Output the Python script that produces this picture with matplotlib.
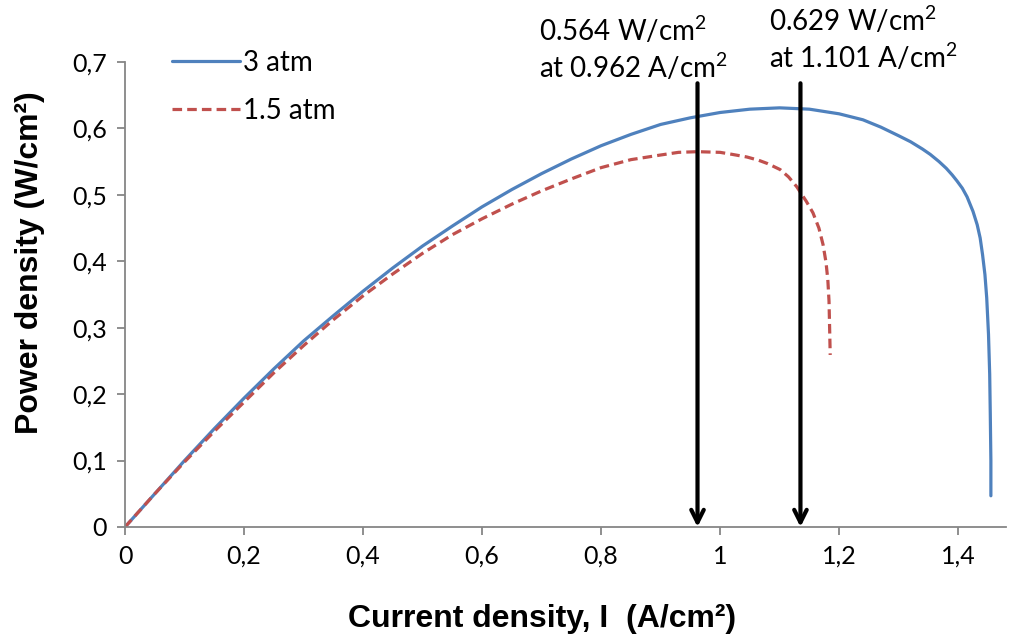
import matplotlib
matplotlib.use("Agg")
import matplotlib.pyplot as plt
from matplotlib.ticker import FuncFormatter

# current density (A/cm2) and power density (W/cm2)
i_3atm = [0, 0.05, 0.1, 0.15, 0.2, 0.25, 0.3, 0.35, 0.4, 0.45, 0.5, 0.55,
          0.6, 0.65, 0.7, 0.75, 0.8, 0.85, 0.9, 0.95, 1.0, 1.05, 1.1, 1.15,
          1.2, 1.24, 1.27, 1.3, 1.32, 1.34, 1.353, 1.368, 1.38, 1.39, 1.398,
          1.407, 1.415, 1.425, 1.432, 1.437, 1.441, 1.445, 1.448, 1.451,
          1.453, 1.454, 1.455, 1.455]
p_3atm = [0, 0.05, 0.10, 0.148, 0.194, 0.238, 0.28, 0.318, 0.355, 0.39,
          0.423, 0.453, 0.482, 0.508, 0.532, 0.554, 0.574, 0.591, 0.606,
          0.616, 0.624, 0.629, 0.631, 0.629, 0.622, 0.613, 0.602, 0.589,
          0.580, 0.569, 0.561, 0.550, 0.540, 0.530, 0.521, 0.510, 0.497,
          0.475, 0.455, 0.435, 0.41, 0.38, 0.345, 0.29, 0.23, 0.17, 0.10,
          0.047]

i_15atm = [0, 0.05, 0.1, 0.15, 0.2, 0.25, 0.3, 0.35, 0.4, 0.45, 0.5, 0.55,
           0.6, 0.65, 0.7, 0.75, 0.8, 0.85, 0.9, 0.93, 0.962, 1.0, 1.02,
           1.045, 1.065, 1.08, 1.101, 1.115, 1.129, 1.145, 1.156, 1.166,
           1.173, 1.178, 1.181, 1.183, 1.184, 1.185]
p_15atm = [0, 0.05, 0.098, 0.144, 0.188, 0.232, 0.273, 0.312, 0.348, 0.381,
           0.412, 0.44, 0.464, 0.486, 0.506, 0.524, 0.541, 0.553, 0.560,
           0.564, 0.565, 0.564, 0.561, 0.557, 0.552, 0.547, 0.538, 0.527,
           0.512, 0.49, 0.473, 0.45, 0.425, 0.398, 0.372, 0.34, 0.30, 0.259]

arrow_x = [0.962, 1.135]
notes = ["0.564 W/cm$^2$\nat 0.962 A/cm$^2$",
         "0.629 W/cm$^2$\nat 1.101 A/cm$^2$"]
note_pos = [(0.695, 0.771), (1.082, 0.786)]

x_ticks = [0, 0.2, 0.4, 0.6, 0.8, 1.0, 1.2, 1.4]
y_ticks = [0, 0.1, 0.2, 0.3, 0.4, 0.5, 0.6, 0.7]

BLUE = "#4F81BD"
RED = "#C0504D"
GREY = "#868686"

plt.rcParams["font.family"] = ["Lato", "DejaVu Sans"]
plt.rcParams["mathtext.fontset"] = "custom"
plt.rcParams["mathtext.rm"] = "Lato"
plt.rcParams["mathtext.it"] = "Lato:italic"
plt.rcParams["mathtext.bf"] = "Lato:bold"

fig = plt.figure(figsize=(10.1, 6.36), dpi=100)
ax = fig.add_axes([0.1238, 0.1714, 0.872, 0.7311])

ax.plot(i_3atm, p_3atm, color=BLUE, lw=2.3, label="3 atm",
        solid_capstyle="round", solid_joinstyle="round")
ax.plot(i_15atm, p_15atm, color=RED, lw=2.3, ls=(0, (3, 1.6)),
        label="1.5 atm")

for xa in arrow_x:
    ax.annotate("", xy=(xa, 0.0), xytext=(xa, 0.668),
                arrowprops=dict(arrowstyle="->,head_length=0.9,head_width=0.45",
                                color="black", lw=3, shrinkA=0, shrinkB=0))

for txt, (tx, ty) in zip(notes, note_pos):
    ax.text(tx, ty, txt, fontsize=20, va="top", ha="left",
            linespacing=1.22, clip_on=False)

ax.set_xlim(0, 1.48)
ax.set_ylim(0, 0.7)
ax.set_xticks(x_ticks)
ax.set_yticks(y_ticks)
comma = FuncFormatter(lambda v, p: ("%g" % round(v, 2)).replace(".", ","))
ax.xaxis.set_major_formatter(comma)
ax.yaxis.set_major_formatter(comma)

for side in ["top", "right"]:
    ax.spines[side].set_visible(False)
for side in ["left", "bottom"]:
    ax.spines[side].set_color(GREY)
    ax.spines[side].set_linewidth(1.3)
ax.tick_params(direction="out", length=6, width=1.3, color=GREY,
               labelsize=18, pad=7)

ax.set_xlabel("Current density, I  (A/cm\u00b2)", fontsize=23,
              fontweight="bold", family="Liberation Sans")
ax.set_ylabel("Power density (W/cm\u00b2)", fontsize=23,
              fontweight="bold", family="Liberation Sans")
ax.xaxis.set_label_coords(0.473, -0.165)
ax.yaxis.set_label_coords(-0.091, 0.568)

ax.legend(loc="upper left", bbox_to_anchor=(0.025, 1.08), frameon=False,
          fontsize=20, handlelength=2.45, handletextpad=0.12,
          labelspacing=0.8)

fig.savefig("out.png", dpi=100)
